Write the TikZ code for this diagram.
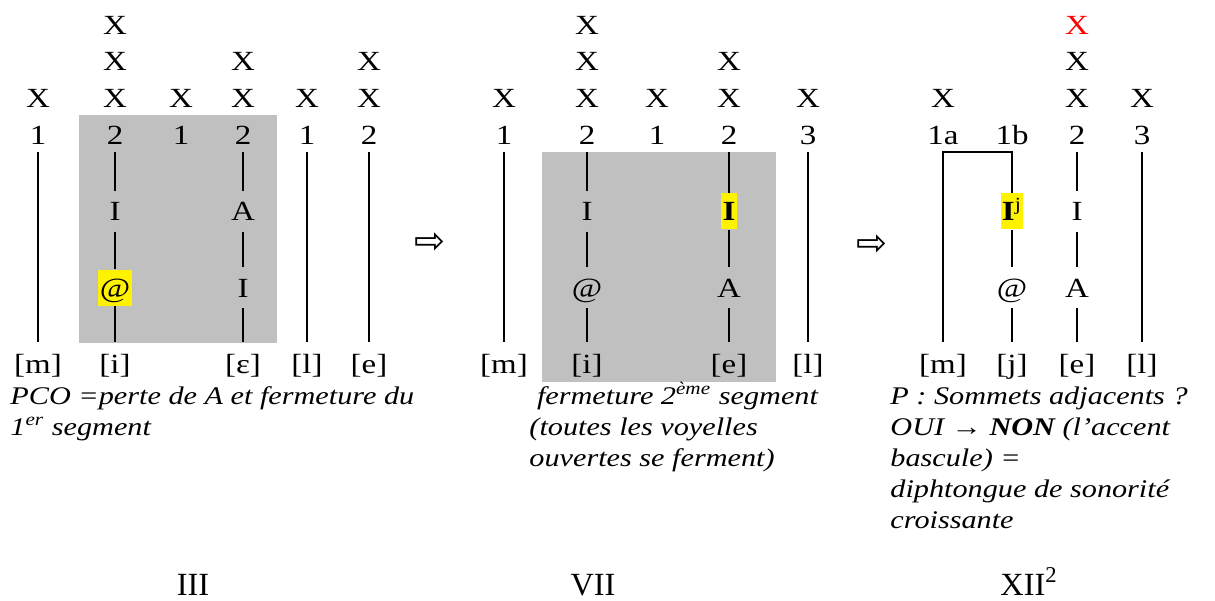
\documentclass[tikz,border=0pt]{standalone}
\usepackage{fontspec}
\setmainfont{Liberation Serif}[FakeStretch=1.19]
\newfontfamily\romfont{Liberation Serif}
\newfontfamily\arrowfont{DejaVu Sans}
\definecolor{silver}{RGB}{192,192,192}
\usetikzlibrary{positioning}

\begin{document}
\begin{tikzpicture}[x=0.433pt, y=-0.433pt, node distance=15.9pt,
    cell/.style={font=\fontsize{12}{14}\selectfont, inner sep=0pt, text height=10pt, text depth=2pt},
    num/.style={cell, minimum height=14.7pt},
    seg/.style={cell, minimum height=17.3pt, node distance=33.1pt},
    phon/.style={cell, minimum height=19pt, node distance=33.1pt},
    hl/.style={fill=yellow, inner xsep=0.6pt, minimum height=15.6pt},
    tier/.style={line width=0.87pt},
    note/.style={font=\fontsize{11}{13.4}\selectfont\itshape, align=left, inner sep=0pt, anchor=base west},
    stage/.style={font=\romfont\fontsize{14}{16}\selectfont, inner sep=0pt, anchor=base},
    goes/.style={font=\arrowfont\fontsize{16}{18}\selectfont, inner sep=0pt}]
\useasboundingbox (0,0) rectangle (1215,600);
% III
\fill[silver] (79,115) rectangle (277,343);
\node[num] (a1) at (38,135) {1};
\node[cell] (a1x) [above of=a1] {X};
\node[phon] (a1p) [below of=a1, node distance=99.3pt] {[m]};
\node[num] (a2) at (115,135) {2};
\node[cell] (a2x) [above of=a2] {X};
\node[cell] (a2y) [above of=a2x] {X};
\node[cell] (a2z) [above of=a2y] {X};
\node[seg] (a2s) [below of=a2] {I};
\node[seg, hl] (a2t) [below of=a2s] {@};
\node[phon] (a2p) [below of=a2t] {[i]};
\node[num] (a3) at (181,135) {1};
\node[cell] (a3x) [above of=a3] {X};
\node[num] (a4) at (243,135) {2};
\node[cell] (a4x) [above of=a4] {X};
\node[cell] (a4y) [above of=a4x] {X};
\node[seg] (a4s) [below of=a4] {A};
\node[seg] (a4t) [below of=a4s] {I};
\node[phon] (a4p) [below of=a4t] {[ε]};
\node[num] (a5) at (307,135) {1};
\node[cell] (a5x) [above of=a5] {X};
\node[phon] (a5p) [below of=a5, node distance=99.3pt] {[l]};
\node[num] (a6) at (369,135) {2};
\node[cell] (a6x) [above of=a6] {X};
\node[cell] (a6y) [above of=a6x] {X};
\node[phon] (a6p) [below of=a6, node distance=99.3pt] {[e]};
\draw[tier] (a1) -- (a1p);
\draw[tier] (a2) -- (a2s);
\draw[tier] (a2s) -- (a2t);
\draw[tier] (a2t) -- (a2p);
\draw[tier] (a4) -- (a4s);
\draw[tier] (a4s) -- (a4t);
\draw[tier] (a4t) -- (a4p);
\draw[tier] (a5) -- (a5p);
\draw[tier] (a6) -- (a6p);
\node[goes] (g1) at (430,243) {⇨};
% VII
\fill[silver] (542,152) rectangle (776,382);
\node[num] (b1) at (504,135) {1};
\node[cell] (b1x) [above of=b1] {X};
\node[phon] (b1p) [below of=b1, node distance=99.3pt] {[m]};
\node[num] (b2) at (587,135) {2};
\node[cell] (b2x) [above of=b2] {X};
\node[cell] (b2y) [above of=b2x] {X};
\node[cell] (b2z) [above of=b2y] {X};
\node[seg] (b2s) [below of=b2] {I};
\node[seg] (b2t) [below of=b2s] {@};
\node[phon] (b2p) [below of=b2t] {[i]};
\node[num] (b3) at (657,135) {1};
\node[cell] (b3x) [above of=b3] {X};
\node[num] (b4) at (729,135) {2};
\node[cell] (b4x) [above of=b4] {X};
\node[cell] (b4y) [above of=b4x] {X};
\node[seg, hl] (b4s) [below of=b4] {\textbf{I}};
\node[seg] (b4t) [below of=b4s] {A};
\node[phon] (b4p) [below of=b4t] {[e]};
\node[num] (b5) at (808,135) {3};
\node[cell] (b5x) [above of=b5] {X};
\node[phon] (b5p) [below of=b5, node distance=99.3pt] {[l]};
\draw[tier] (b1) -- (b1p);
\draw[tier] (b2) -- (b2s);
\draw[tier] (b2s) -- (b2t);
\draw[tier] (b2t) -- (b2p);
\draw[tier] (b4) -- (b4s);
\draw[tier] (b4s) -- (b4t);
\draw[tier] (b4t) -- (b4p);
\draw[tier] (b5) -- (b5p);
\node[goes] (g2) at (872,245) {⇨};
% XII2
\node[num] (c1) at (943,135) {1a};
\node[cell] (c1x) [above of=c1] {X};
\node[phon] (c1p) [below of=c1, node distance=99.3pt] {[m]};
\node[num] (c2) at (1012,135) {1b};
\node[seg, hl] (c2s) [below of=c2] {\textbf{I}\textsuperscript{j}};
\node[seg] (c2t) [below of=c2s] {@};
\node[phon] (c2p) [below of=c2t] {[j]};
\node[num] (c3) at (1077,135) {2};
\node[cell] (c3x) [above of=c3] {X};
\node[cell] (c3y) [above of=c3x] {X};
\node[cell, text=red] (c3z) [above of=c3y] {X};
\node[seg] (c3s) [below of=c3] {I};
\node[seg] (c3t) [below of=c3s] {A};
\node[phon] (c3p) [below of=c3t] {[e]};
\node[num] (c4) at (1142,135) {3};
\node[cell] (c4x) [above of=c4] {X};
\node[phon] (c4p) [below of=c4, node distance=99.3pt] {[l]};
\draw[tier] (c1p) |- (c2.south) -- (c2s);
\draw[tier] (c2s) -- (c2t);
\draw[tier] (c2t) -- (c2p);
\draw[tier] (c3) -- (c3s);
\draw[tier] (c3s) -- (c3t);
\draw[tier] (c3t) -- (c3p);
\draw[tier] (c4) -- (c4p);
% captions (base = last line)
\node[note] (n1) at (10,435) {PCO =perte de A et fermeture du\\1\textsuperscript{er} segment};
\node[note] (n2) at (529,466) {\ fermeture 2\textsuperscript{ème} segment\\(toutes les voyelles\\ouvertes se ferment)};
\node[note] (n3) at (890,528) {P : Sommets adjacents ?\\OUI → \textbf{NON} (l’accent\\bascule) =\\diphtongue de sonorité\\croissante};
\node[stage] (r1) at (193,595) {III};
\node[stage] (r2) at (593,595) {VII};
\node[stage, anchor=base west] (r3) at (1000,595) {XII\textsuperscript{2}};
\end{tikzpicture}
\end{document}
